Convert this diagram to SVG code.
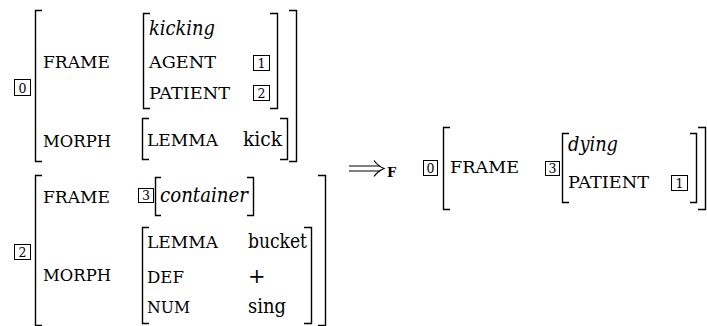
<svg xmlns="http://www.w3.org/2000/svg" width="707" height="326" viewBox="0 0 707 326" font-family="'DejaVu Serif', 'Liberation Serif', serif">
<style>
.br{fill:none;stroke:#000;stroke-width:1.4}
.bx{fill:none;stroke:#000;stroke-width:1}
.lb{font-family:'DejaVu Serif','Liberation Serif',serif;font-size:17.5px;fill:#000}
.v{font-family:'DejaVu Serif','Liberation Serif',serif;font-size:21px;fill:#000}
.it{font-family:'DejaVu Serif','Liberation Serif',serif;font-size:21px;font-style:italic;fill:#000}
.tg{font-family:'DejaVu Serif','Liberation Serif',serif;font-size:12.5px;fill:#000;text-anchor:middle}
</style>
<rect width="707" height="326" fill="#fff"/>

<g id="avm0-left">
  <rect class="bx" x="14.5" y="79.5" width="16" height="16"/>
  <text class="tg" x="22.5" y="92.5">0</text>
  <path class="br" d="M42,10.5 H35.5 V161.5 H42"/>
  <path class="br" d="M289,10.5 H296.5 V161.5 H289"/>
  <text class="lb" x="43" y="68" textLength="67" lengthAdjust="spacingAndGlyphs">FRAME</text>
  <path class="br" d="M150,13.5 H143.5 V108.5 H150"/>
  <path class="br" d="M270,13.5 H277.5 V108.5 H270"/>
  <text class="it" x="149" y="35" textLength="66" lengthAdjust="spacingAndGlyphs">kicking</text>
  <text class="lb" x="149" y="68" textLength="67" lengthAdjust="spacingAndGlyphs">AGENT</text>
  <rect class="bx" x="253.5" y="55.5" width="16" height="15"/>
  <text class="tg" x="261.5" y="67.5">1</text>
  <text class="lb" x="149" y="99" textLength="81" lengthAdjust="spacingAndGlyphs">PATIENT</text>
  <rect class="bx" x="253.5" y="85.5" width="16" height="15"/>
  <text class="tg" x="261.5" y="97.5">2</text>
  <text class="lb" x="43" y="147" textLength="68" lengthAdjust="spacingAndGlyphs">MORPH</text>
  <path class="br" d="M149,118.5 H142.5 V159.5 H149"/>
  <path class="br" d="M280,118.5 H287.5 V159.5 H280"/>
  <text class="lb" x="147" y="146" textLength="71" lengthAdjust="spacingAndGlyphs">LEMMA</text>
  <text class="v" x="243" y="146" textLength="39" lengthAdjust="spacingAndGlyphs">kick</text>
</g>

<g id="avm2">
  <rect class="bx" x="14.5" y="244.5" width="16" height="15"/>
  <text class="tg" x="22.5" y="256.5">2</text>
  <path class="br" d="M42,175.5 H35.5 V325.5 H42"/>
  <path class="br" d="M318,175.5 H325.5 V325.5 H318"/>
  <text class="lb" x="43" y="203" textLength="67" lengthAdjust="spacingAndGlyphs">FRAME</text>
  <rect class="bx" x="138.5" y="188.5" width="15" height="14"/>
  <text class="tg" x="146" y="200">3</text>
  <path class="br" d="M161,177.5 H155.5 V215.5 H161"/>
  <path class="br" d="M247,177.5 H253.5 V215.5 H247"/>
  <text class="it" x="160" y="202" textLength="88" lengthAdjust="spacingAndGlyphs">container</text>
  <text class="lb" x="43" y="281" textLength="68" lengthAdjust="spacingAndGlyphs">MORPH</text>
  <path class="br" d="M149,227.5 H142.5 V323.5 H149"/>
  <path class="br" d="M304,227.5 H311.5 V323.5 H304"/>
  <text class="lb" x="147" y="248" textLength="71" lengthAdjust="spacingAndGlyphs">LEMMA</text>
  <text class="v" x="248" y="248" textLength="59" lengthAdjust="spacingAndGlyphs">bucket</text>
  <text class="lb" x="147" y="283" textLength="37" lengthAdjust="spacingAndGlyphs">DEF</text>
  <text class="v" x="248" y="283">+</text>
  <text class="lb" x="147" y="313" textLength="43" lengthAdjust="spacingAndGlyphs">NUM</text>
  <text class="v" x="248" y="313" textLength="38" lengthAdjust="spacingAndGlyphs">sing</text>
</g>

<g id="connectors">
  <path d="M349,166 H380 M349,171 H380" stroke="#000" stroke-width="1.2" fill="none"/>
  <path d="M374,160.5 Q378,166 384,168.5 Q378,171 374,176.5" stroke="#000" stroke-width="1.2" fill="none"/>
  <text x="387" y="177" font-family="'DejaVu Serif', serif" font-size="13" font-weight="bold" fill="#000">F</text>
</g>

<g id="avm0-right">
  <rect class="bx" x="423.5" y="160.5" width="14" height="15"/>
  <text class="tg" x="430.5" y="172.5">0</text>
  <path class="br" d="M450,127.5 H443.5 V209.5 H450"/>
  <path class="br" d="M698,127.5 H705.5 V209.5 H698"/>
  <text class="lb" x="450" y="173" textLength="69" lengthAdjust="spacingAndGlyphs">FRAME</text>
  <rect class="bx" x="545.5" y="161.5" width="14" height="14"/>
  <text class="tg" x="552.5" y="173">3</text>
  <path class="br" d="M569,133.5 H562.5 V202.5 H569"/>
  <path class="br" d="M690,133.5 H696.5 V202.5 H690"/>
  <text class="it" x="568" y="151" textLength="50" lengthAdjust="spacingAndGlyphs">dying</text>
  <text class="lb" x="568" y="188" textLength="81" lengthAdjust="spacingAndGlyphs">PATIENT</text>
  <rect class="bx" x="671.5" y="175.5" width="16" height="15"/>
  <text class="tg" x="679.5" y="187.5">1</text>
</g>
</svg>
